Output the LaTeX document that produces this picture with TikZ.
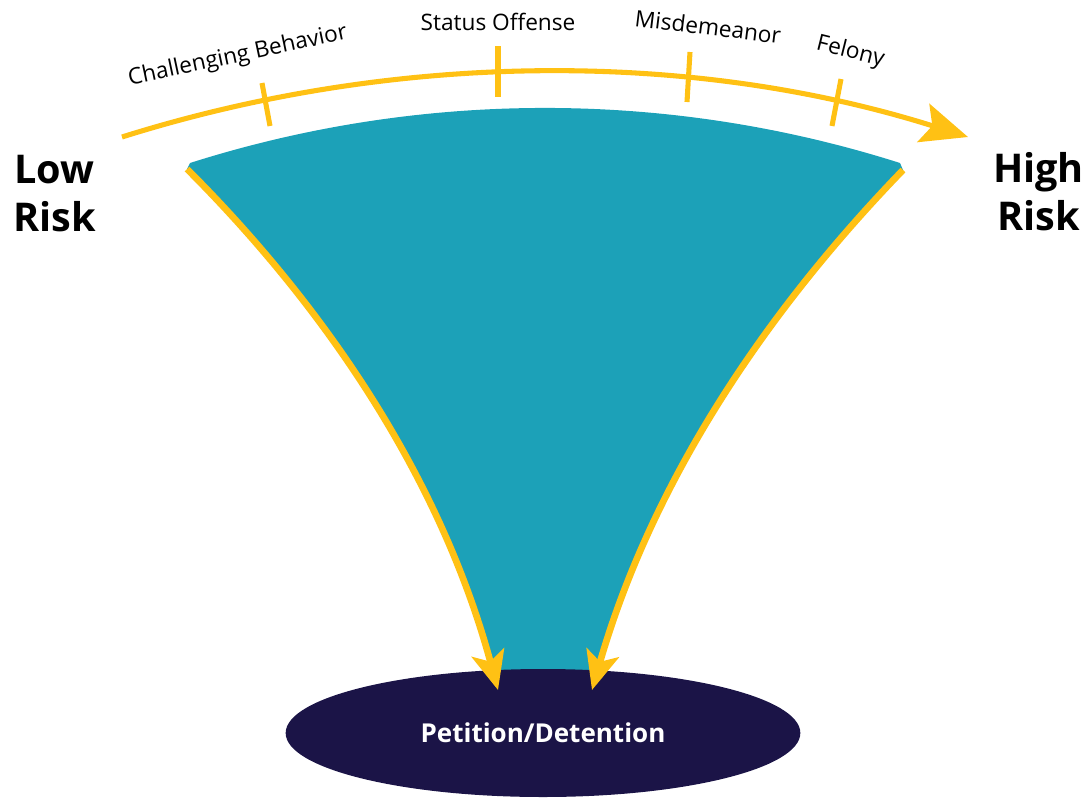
\documentclass[tikz,border=0pt]{standalone}
\usepackage{fontspec}
\setmainfont{Open Sans}
\usetikzlibrary{arrows.meta,shapes.geometric}
\definecolor{funnelteal}{HTML}{1CA1B8}
\definecolor{gold}{HTML}{FFC114}
\definecolor{navy}{HTML}{1B1447}
\begin{document}
\begin{tikzpicture}[x=0.75pt,y=-0.75pt,
  scaleline/.style={draw=gold, line width=3.8pt},
  scalearrow/.style={scaleline, -{Stealth[length=35pt,width=30pt,inset=7pt]}},
  tickmark/.style={draw=gold, line width=3.8pt},
  sidearrow/.style={draw=gold, line width=5pt, -{Stealth[length=29pt,width=25pt,inset=7pt]}},
  lbl/.style={font=\fontsize{17}{20}\selectfont, text=black, inner sep=0pt, anchor=base},
  risk/.style={font=\bfseries\fontsize{29.7}{36.3}\selectfont, inner sep=0pt, align=center, anchor=north},
  detnode/.style={ellipse, fill=navy, inner sep=0pt, minimum width=386pt, minimum height=96pt,
     text=white, font=\bfseries\fontsize{19.5}{22}\selectfont}
]
\useasboundingbox (0,0) rectangle (1090,797);

% funnel corners
\coordinate (tl) at (187,169);
\coordinate (tr) at (903,170);
\coordinate (bl) at (498,690);
\coordinate (br) at (592,690);

% teal funnel
\fill[funnelteal] (190,163) .. controls (421,89.6) and (669,89.6) .. (900,163)
  -- (tr) .. controls (753,325) and (648,495) .. (br)
  -- (bl) .. controls (444,490) and (337,319) .. (tl) -- cycle;

% detention ellipse
\node[detnode] (det) at (543,733) {Petition/Detention};

% side arrows
\draw[sidearrow] (tl) .. controls (337,319) and (444,490) .. (bl);
\draw[sidearrow] (tr) .. controls (753,325) and (648,495) .. (br);

% top scale arrow
\coordinate (s0) at (122,137);
\coordinate (s1) at (968,137);
\draw[scalearrow] (s0) .. controls (397,50.4) and (693,50.4) .. (s1);

% ticks
\coordinate (t1a) at (262,83);  \coordinate (t1b) at (270,126);
\coordinate (t2a) at (498,46);  \coordinate (t2b) at (498,97);
\coordinate (t3a) at (690,52);  \coordinate (t3b) at (687,102);
\coordinate (t4a) at (841,79);  \coordinate (t4b) at (832,126);
\draw[tickmark] (t1a) -- (t1b);
\draw[tickmark] (t2a) -- (t2b);
\draw[tickmark] (t3a) -- (t3b);
\draw[tickmark] (t4a) -- (t4b);

% labels
\node[lbl, rotate=12] (chb) at (239,62) {Challenging Behavior};
\node[lbl] (sto) at (498,30) {Status Offense};
\node[lbl, rotate=-7] (mis) at (707,35) {Misdemeanor};
\node[lbl, rotate=-14] (fel) at (849,58) {Felony};

\node[risk] (low) at (54.5,155) {Low\\Risk};
\node[risk] (high) at (1038.5,152) {High\\Risk};
\end{tikzpicture}
\end{document}
